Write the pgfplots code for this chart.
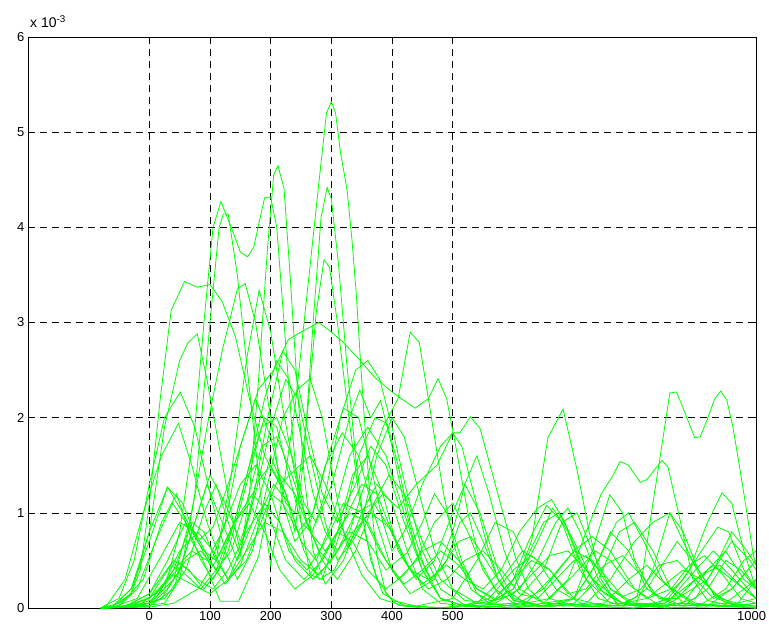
\documentclass[border=0pt]{standalone}
\usepackage{fontspec}
\setmainfont{Liberation Sans}
\usepackage{pgfplots}
\pgfplotsset{compat=1.18}
\definecolor{mgreen}{RGB}{0,255,0}
\pgfplotscreateplotcyclelist{allgreen}{mgreen,solid,line width=0.8pt\\}
\begin{document}
\begin{tikzpicture}
\useasboundingbox (-28pt,-22pt) rectangle (741pt,608pt);
\begin{axis}[name=ax, at={(0,0)}, anchor=south west,
  scale only axis, width=728pt, height=571pt,
  xmin=-200, xmax=1000, ymin=0, ymax=6,
  xtick={0,100,200,300,400,500,1000},
  xticklabels={0,100,200,300,400,500,\makebox[20pt][r]{1000}},
  ytick={0,1,2,3,4,5,6},
  grid=major,
  major grid style={black, line width=0.5pt, dash pattern=on 7pt off 5pt},
  axis line style={black, line width=0.8pt},
  tick align=inside, major tick length=5pt,
  tick style={black, line width=0.5pt},
  tick label style={font=\fontsize{13}{15}\selectfont},
  /pgf/number format/assume math mode=true,
  /pgf/number format/1000 sep={},
  scaled ticks=false,
  cycle list name=allgreen,
  no markers,
]
% 1 plateau 3.4
\addplot coordinates {(-80,0) (-50,0.05) (-30,0.15) (-15,0.4) (0,1.1) (18,2.2) (36,3.13) (58,3.43) (79,3.37) (100,3.40) (120,3.22) (142,2.85) (165,2.2) (190,1.6) (215,1.3) (240,1.45) (265,1.6) (290,1.3) (320,0.8) (350,0.35) (380,0.1) (420,0.02) (500,0) (560,0.1) (600,0.4) (630,0.55) (660,0.4) (700,0.1) (750,0.02) (850,0.05) (900,0.3) (940,0.45) (980,0.2) (1000,0.1)};
% 2 double 4.27 / 4.32
\addplot coordinates {(-80,0) (-50,0.01) (0,0.05) (25,0.2) (50,0.8) (75,1.9) (90,3.0) (105,4.0) (118,4.27) (135,4.0) (150,3.74) (162,3.69) (172,3.79) (190,4.31) (200,4.32) (210,4.0) (222,3.0) (235,1.9) (250,0.9) (265,0.35) (285,0.3) (310,0.8) (335,1.4) (360,1.6) (385,1.2) (410,0.6) (440,0.3) (470,0.5) (500,1.0) (520,1.3) (545,1.0) (575,0.4) (600,0.1) (650,0.02) (750,0.05) (790,0.3) (820,0.45) (850,0.25) (900,0.05) (1000,0)};
% 3 4.14 -> 5.32
\addplot coordinates {(-80,0) (-25,0.01) (25,0.05) (50,0.3) (75,1.2) (100,3.0) (115,4.0) (122,4.14) (130,4.14) (145,3.5) (165,2.3) (185,1.1) (200,0.45) (215,1.0) (240,2.1) (260,3.3) (280,4.5) (292,5.2) (300,5.32) (307,5.2) (315,4.79) (326,4.39) (334,3.87) (341,3.31) (350,2.4) (362,1.3) (375,0.55) (390,0.15) (410,0.03) (450,0) (550,0.02) (600,0.2) (640,0.7) (665,1.05) (690,0.8) (720,0.3) (760,0.05) (850,0.02) (920,0.3) (960,0.7) (990,0.5) (1000,0.4)};
% 4 4.65
\addplot coordinates {(-80,0) (-25,0.01) (25,0.1) (60,0.4) (90,1.0) (110,1.3) (130,0.9) (150,0.55) (165,1.2) (180,2.4) (195,3.8) (205,4.55) (212,4.65) (222,4.41) (232,3.5) (243,2.4) (255,1.4) (270,0.6) (290,0.25) (320,0.5) (350,1.0) (375,1.3) (400,1.1) (425,0.6) (450,0.2) (480,0.05) (550,0) (620,0.05) (660,0.3) (700,0.6) (730,0.5) (760,0.2) (800,0.02) (900,0) (950,0.2) (980,0.5) (1000,0.6)};
% 5 4.42
\addplot coordinates {(-80,0) (0,0.02) (40,0.2) (70,0.8) (95,1.3) (120,0.9) (145,0.5) (170,0.9) (200,1.6) (225,1.2) (240,0.8) (255,1.6) (270,3.0) (283,4.1) (293,4.42) (300,4.3) (312,3.6) (325,2.6) (340,1.6) (355,0.8) (375,0.3) (400,0.08) (440,0.02) (500,0.1) (540,0.5) (570,0.9) (600,0.8) (630,0.4) (660,0.1) (700,0.02) (800,0) (860,0.1) (900,0.4) (930,0.6) (960,0.4) (1000,0.1)};
% 6 3.66
\addplot coordinates {(-80,0) (-60,0.02) (-30,0.2) (0,0.7) (30,1.27) (55,1.1) (80,0.7) (100,0.45) (125,0.9) (150,1.7) (175,2.2) (200,1.8) (225,1.1) (240,1.0) (260,2.0) (275,3.1) (288,3.66) (297,3.58) (310,3.0) (325,2.2) (345,1.2) (365,0.5) (385,0.15) (420,0.03) (480,0) (540,0.05) (580,0.3) (615,0.6) (640,0.5) (670,0.2) (720,0.02) (800,0) (880,0.05) (920,0.4) (950,0.6) (980,0.3) (1000,0.2)};
% 7 3.41 @158
\addplot coordinates {(-80,0) (-50,0.01) (0,0.05) (40,0.3) (70,1.0) (95,1.9) (120,2.7) (145,3.35) (158,3.41) (175,3.0) (200,2.0) (220,1.1) (240,0.7) (265,0.9) (290,1.5) (318,1.84) (345,1.6) (370,1.0) (400,0.4) (430,0.15) (470,0.3) (500,0.8) (520,1.3) (540,1.6) (560,1.2) (585,0.6) (610,0.2) (650,0.05) (700,0.1) (740,0.5) (760,0.8) (790,0.6) (820,0.2) (860,0.05) (950,0.02) (1000,0.05)};
% 8 3.34 @181
\addplot coordinates {(-80,0) (-40,0.02) (0,0.15) (30,0.5) (60,0.9) (90,0.6) (110,0.5) (135,1.4) (160,2.6) (181,3.34) (200,2.9) (220,2.1) (240,1.4) (260,0.9) (280,0.6) (298,0.47) (320,0.9) (345,1.6) (372,2.0) (392,1.94) (410,1.5) (430,0.9) (455,0.4) (480,0.1) (520,0.02) (600,0.05) (650,0.4) (680,0.9) (705,1.0) (730,0.6) (760,0.2) (800,0.05) (880,0.02) (920,0.2) (950,0.5) (975,0.4) (1000,0.2)};
% 9 2.88 @79
\addplot coordinates {(-80,0) (-60,0.02) (-30,0.15) (0,0.8) (25,1.9) (50,2.6) (63,2.78) (79,2.88) (95,2.4) (115,1.7) (135,1.0) (150,0.6) (170,1.1) (195,2.0) (220,2.7) (240,2.5) (260,1.9) (285,1.2) (310,0.9) (340,1.3) (365,1.7) (390,1.5) (420,0.9) (450,0.4) (480,0.1) (520,0.02) (580,0.1) (620,0.5) (650,0.9) (675,1.0) (700,0.7) (730,0.3) (780,0.05) (850,0.01) (900,0.1) (930,0.4) (960,0.8) (985,0.6) (1000,0.45)};
% 10 2.27 @51
\addplot coordinates {(-80,0) (-75,0.02) (-50,0.1) (-25,0.5) (0,1.3) (25,2.0) (51,2.27) (75,1.9) (100,1.2) (125,0.6) (145,0.3) (170,0.6) (195,1.3) (220,2.0) (245,2.3) (265,2.41) (285,2.0) (305,1.3) (326,0.64) (350,0.9) (375,1.6) (400,2.0) (420,1.8) (445,1.2) (470,0.6) (500,0.2) (540,0.05) (600,0.02) (650,0.2) (700,0.6) (730,0.75) (760,0.6) (800,0.2) (840,0.03) (920,0.02) (960,0.2) (1000,0.5)};
% 11 1.94 @48
\addplot coordinates {(-80,0) (-70,0.03) (-40,0.3) (-10,1.0) (20,1.6) (48,1.94) (70,1.5) (95,0.9) (115,0.55) (140,0.9) (165,1.5) (190,2.0) (210,1.9) (230,1.4) (250,0.9) (268,0.79) (290,1.2) (315,2.0) (340,2.5) (360,2.6) (380,2.4) (400,1.9) (425,1.2) (450,0.6) (480,0.2) (520,0.03) (600,0) (680,0.05) (700,0.1) (730,0.6) (759,1.19) (780,1.0) (800,0.5) (830,0.15) (880,0.02) (950,0.05) (1000,0.3)};
% 12 long slope 3.0 -> 2.1, 2.41 @476
\addplot coordinates {(-80,0) (-60,0.02) (-30,0.2) (0,0.8) (30,1.27) (55,1.0) (80,0.7) (105,0.85) (130,1.3) (155,1.8) (180,2.3) (205,2.5) (229,2.82) (250,2.9) (279,3.0) (300,2.9) (318,2.8) (342,2.64) (372,2.42) (402,2.26) (438,2.1) (460,2.2) (476,2.41) (490,2.2) (505,1.7) (525,1.0) (545,0.5) (570,0.2) (600,0.05) (650,0.01) (720,0.05) (760,0.3) (800,0.7) (830,0.9) (858,1.0) (880,0.7) (910,0.3) (950,0.05) (1000,0.02)};
% 13
\addplot coordinates {(-80,0) (-50,0.02) (-20,0.2) (10,0.7) (38,1.1) (60,0.9) (85,0.5) (105,0.3) (130,0.6) (160,1.3) (185,1.9) (210,2.0) (235,1.6) (255,1.1) (275,0.9) (301,1.3) (330,2.0) (347,2.29) (365,2.0) (381,2.18) (400,1.7) (420,1.1) (440,0.6) (465,0.3) (490,0.5) (512,0.9) (529,1.0) (550,0.7) (575,0.3) (600,0.08) (650,0.02) (700,0.1) (740,0.5) (770,0.9) (790,1.0) (815,0.7) (845,0.3) (880,0.05) (950,0.02) (1000,0.1)};
% 14 2.9 @430, 2.09 @682
\addplot coordinates {(-80,0) (-40,0.01) (0,0.15) (40,0.5) (65,0.4) (90,0.2) (115,0.4) (140,0.9) (165,1.5) (190,2.2) (210,2.6) (230,2.4) (250,1.8) (270,1.2) (290,0.8) (310,0.6) (330,0.8) (360,1.4) (385,1.9) (410,2.2) (430,2.9) (445,2.79) (465,2.0) (485,1.2) (505,0.6) (530,0.2) (560,0.05) (600,0.2) (630,0.7) (657,1.79) (682,2.09) (705,1.45) (725,0.8) (745,0.3) (770,0.05) (850,0) (1000,0.02)};
% 15 2.01 @529
\addplot coordinates {(-80,0) (-20,0.01) (20,0.1) (50,0.4) (75,0.9) (100,1.4) (125,1.1) (150,0.7) (175,1.2) (200,1.9) (225,2.4) (245,2.2) (265,1.6) (290,0.9) (310,0.5) (335,0.7) (360,1.0) (385,1.2) (410,1.05) (440,1.3) (474,1.5) (500,1.84) (512,1.84) (529,2.01) (545,1.89) (565,1.42) (583,1.0) (603,0.54) (625,0.2) (650,0.05) (780,0.02) (820,0.2) (850,0.5) (870,0.7) (895,0.5) (930,0.15) (970,0.02) (1000,0)};
% 16 1.55 double
\addplot coordinates {(-80,0) (0,0.05) (40,0.4) (70,0.9) (90,0.8) (110,0.5) (130,0.3) (150,0.6) (175,1.3) (200,1.5) (225,1.2) (250,0.7) (275,0.5) (300,0.9) (330,1.6) (360,1.9) (390,1.6) (420,1.0) (450,0.4) (480,0.1) (520,0.02) (600,0.01) (650,0.05) (690,0.3) (720,0.8) (745,1.2) (763,1.38) (776,1.54) (790,1.5) (809,1.32) (820,1.35) (845,1.55) (855,1.48) (875,0.92) (896,0.3) (920,0.08) (960,0.02) (1000,0)};
% 17 2.27 / 2.28 double
\addplot coordinates {(-80,0) (0,0.02) (30,0.2) (60,0.5) (85,0.6) (110,0.4) (135,0.6) (160,1.1) (185,1.7) (210,1.8) (235,1.4) (260,0.9) (285,0.5) (310,0.3) (340,0.6) (370,1.1) (395,1.4) (420,1.2) (450,0.7) (480,0.3) (520,0.08) (600,0.02) (700,0.02) (780,0.05) (804,0.12) (814,0.4) (830,1.1) (842,1.59) (858,2.26) (869,2.27) (883,2.05) (899,1.79) (908,1.8) (919,1.97) (932,2.2) (942,2.28) (952,2.18) (962,1.9) (973,1.48) (985,1.0) (995,0.58) (1000,0.45)};
% 18 1.84 @500
\addplot coordinates {(-80,0) (-50,0.02) (-10,0.3) (20,0.9) (45,1.2) (70,0.7) (85,0.55) (100,0.33) (117,0.07) (147,0.07) (180,0.54) (200,1.2) (220,1.1) (245,0.8) (270,1.0) (295,1.6) (320,2.1) (345,2.0) (365,1.5) (385,0.9) (400,0.6) (420,0.8) (450,1.3) (480,1.7) (500,1.84) (515,1.7) (535,1.2) (555,0.7) (575,0.3) (600,0.08) (650,0.02) (700,0.05) (740,0.3) (775,0.8) (800,0.9) (830,0.6) (860,0.2) (900,0.03) (1000,0)};
% 19
\addplot coordinates {(-80,0) (-30,0.01) (10,0.1) (40,0.4) (70,0.6) (95,0.5) (120,0.8) (150,1.3) (175,1.5) (200,1.2) (230,0.6) (260,0.4) (290,0.7) (320,1.1) (350,1.0) (380,0.6) (410,0.3) (440,0.5) (470,0.9) (500,1.1) (525,0.8) (550,0.4) (575,0.15) (600,0.3) (625,0.7) (655,1.08) (680,0.9) (710,0.4) (740,0.1) (780,0.02) (850,0.05) (890,0.4) (920,0.9) (944,1.21) (960,1.1) (980,0.6) (1000,0.2)};
% 20
\addplot coordinates {(-80,0) (-20,0.02) (20,0.2) (50,0.6) (80,0.8) (105,0.6) (130,0.3) (160,0.5) (190,1.0) (215,1.4) (240,1.2) (265,0.8) (290,0.6) (320,0.9) (350,1.3) (375,1.2) (400,0.8) (430,0.4) (460,0.3) (490,0.45) (520,0.3) (550,0.2) (580,0.4) (610,0.8) (640,1.05) (663,1.14) (685,0.9) (710,0.5) (740,0.2) (780,0.05) (840,0.05) (880,0.3) (910,0.6) (937,0.85) (955,0.8) (980,0.4) (1000,0.2)};
% 21
\addplot coordinates {(-80,0) (-50,0.01) (0,0.1) (30,0.3) (55,0.45) (80,0.3) (105,0.2) (130,0.4) (160,0.8) (190,1.1) (215,0.9) (240,0.5) (270,0.3) (300,0.5) (330,0.8) (360,0.7) (390,0.4) (425,0.58) (450,0.9) (470,1.2) (490,1.0) (515,0.5) (540,0.15) (570,0.05) (610,0.2) (640,0.5) (670,0.9) (690,1.05) (710,0.8) (740,0.3) (770,0.05) (800,0.03) (830,0.4) (858,1.0) (880,0.8) (905,0.4) (935,0.1) (970,0.02) (1000,0.05)};
% 22
\addplot coordinates {(-80,0) (-40,0.01) (0,0.1) (38,0.48) (60,0.35) (85,0.2) (110,0.4) (140,0.9) (170,1.2) (195,1.0) (225,0.5) (255,0.3) (285,0.5) (310,0.8) (335,0.7) (360,0.4) (390,0.2) (420,0.35) (450,0.6) (480,0.7) (510,0.5) (540,0.2) (570,0.1) (600,0.3) (630,0.5) (660,0.4) (690,0.15) (720,0.2) (750,0.45) (780,0.55) (810,0.35) (840,0.1) (870,0.1) (900,0.3) (930,0.45) (960,0.3) (1000,0.1)};
% 23
\addplot coordinates {(-80,0) (-30,0.02) (10,0.15) (40,0.35) (70,0.25) (100,0.15) (130,0.3) (160,0.6) (190,0.9) (220,0.8) (250,0.5) (280,0.35) (310,0.6) (340,1.0) (370,1.1) (400,0.8) (430,0.4) (460,0.2) (490,0.3) (520,0.5) (550,0.6) (580,0.4) (610,0.15) (640,0.1) (670,0.3) (700,0.5) (720,0.55) (750,0.35) (780,0.12) (810,0.2) (840,0.45) (870,0.5) (900,0.3) (930,0.1) (960,0.2) (1000,0.5)};
% 24
\addplot coordinates {(-80,0) (0,0.01) (40,0.05) (80,0.2) (110,0.5) (140,0.9) (165,1.1) (190,0.8) (215,0.4) (240,0.2) (270,0.35) (300,0.7) (330,1.0) (360,0.9) (390,0.5) (420,0.25) (450,0.4) (480,0.6) (510,0.45) (540,0.2) (570,0.08) (600,0.15) (630,0.35) (660,0.55) (690,0.6) (720,0.4) (750,0.15) (780,0.05) (820,0.1) (850,0.25) (880,0.4) (910,0.3) (940,0.1) (970,0.05) (1000,0.3)};
% 25
\addplot coordinates {(-80,0) (-60,0.01) (-20,0.1) (20,0.55) (50,0.9) (75,0.8) (100,0.5) (125,0.25) (150,0.45) (180,0.95) (205,1.3) (230,1.1) (255,0.6) (280,0.3) (305,0.4) (335,0.8) (365,1.0) (395,0.85) (420,0.5) (450,0.25) (480,0.4) (510,0.7) (530,0.75) (555,0.5) (585,0.2) (620,0.05) (660,0.1) (700,0.35) (735,0.6) (760,0.5) (790,0.25) (820,0.1) (860,0.2) (890,0.45) (915,0.55) (945,0.35) (975,0.1) (1000,0.05)};
\end{axis}
\node[anchor=south west, inner sep=0pt, font=\fontsize{14}{16}\selectfont] at (2pt,580pt) {x 10\textsuperscript{-3}};
\end{tikzpicture}
\end{document}
